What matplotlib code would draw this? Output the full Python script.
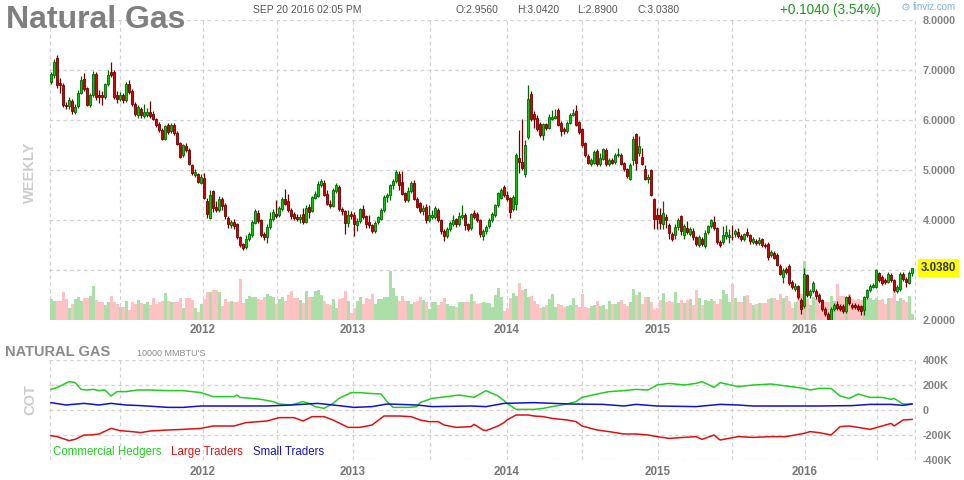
import matplotlib
matplotlib.use("Agg")
import matplotlib.pyplot as plt
from matplotlib.transforms import blended_transform_factory

plt.rcParams["font.family"] = ["Liberation Sans", "DejaVu Sans"]

W, H = 964, 480

# weekly candles, oldest first
opens = [
    6.77, 6.90, 7.23, 6.73, 6.69, 6.31, 6.28, 6.38, 6.16, 6.29,
    6.55, 6.82, 6.63, 6.30, 6.50, 6.93, 6.51, 6.50, 6.47, 6.73,
    6.97, 6.97, 6.50, 6.42, 6.50, 6.40, 6.72, 6.58, 6.33, 6.10,
    6.21, 6.08, 6.10, 6.15, 6.13, 6.02, 5.93, 5.81, 5.63, 5.90,
    5.78, 5.91, 5.75, 5.53, 5.30, 5.49, 5.41, 5.10, 4.90, 4.91,
    4.75, 4.85, 4.38, 4.05, 4.57, 4.27, 4.20, 4.42, 4.30, 4.05,
    3.89, 3.95, 3.91, 3.65, 3.51, 3.45, 3.62, 3.70, 3.95, 4.15,
    3.99, 3.71, 3.65, 3.85, 4.02, 4.13, 4.10, 4.22, 4.42, 4.38,
    4.20, 4.12, 4.07, 4.03, 4.11, 3.97, 4.27, 4.18, 4.45, 4.49,
    4.69, 4.75, 4.53, 4.33, 4.29, 4.58, 4.67, 4.22, 4.18, 3.95,
    4.13, 4.10, 3.89, 3.98, 4.22, 4.07, 3.95, 3.90, 3.77, 3.97,
    4.03, 4.20, 4.47, 4.50, 4.69, 4.78, 4.93, 4.77, 4.53, 4.40,
    4.58, 4.73, 4.43, 4.33, 4.18, 4.27, 4.00, 4.07, 4.07, 4.20,
    4.00, 3.78, 3.67, 3.82, 3.91, 4.02, 3.91, 4.07, 4.10, 3.91,
    3.83, 4.15, 4.13, 4.00, 3.67, 3.77, 3.87, 4.00, 4.10, 4.30,
    4.45, 4.67, 4.50, 4.43, 4.22, 4.33, 5.25, 5.17, 4.93, 5.67,
    6.51, 6.11, 6.05, 5.93, 5.71, 5.91, 5.85, 6.03, 6.05, 6.20,
    5.95, 5.83, 5.78, 5.95, 6.11, 6.18, 5.95, 5.82, 5.53, 5.29,
    5.11, 5.15, 5.38, 5.11, 5.23, 5.40, 5.11, 5.20, 5.17, 5.30,
    5.30, 5.13, 5.02, 4.83, 5.20, 5.73, 5.35, 5.27, 5.03, 4.82,
    5.00, 4.42, 4.11, 4.11, 3.93, 4.07, 3.91, 3.73, 3.69, 3.85,
    4.07, 3.70, 3.83, 3.71, 3.78, 3.65, 3.49, 3.62, 3.47, 3.75,
    3.87, 3.95, 3.83, 3.55, 3.55, 3.67, 3.65, 3.67, 3.71, 3.75,
    3.67, 3.62, 3.75, 3.70, 3.55, 3.58, 3.53, 3.62, 3.51, 3.53,
    3.29, 3.35, 3.31, 3.09, 2.87, 3.02, 3.09, 2.77, 2.62, 2.67,
    2.40, 2.29, 2.89, 2.49, 2.58, 2.58, 2.51, 2.40, 2.23, 2.13,
    2.00, 2.22, 2.33, 2.29, 2.29, 2.18, 2.47, 2.31, 2.30, 2.29,
    2.27, 2.20, 2.45, 2.60, 2.67, 2.67, 2.93, 2.87, 2.80, 2.77,
    2.90, 2.80, 2.58, 2.62, 2.93, 2.83, 2.75, 2.95,
]
closes = [
    6.91, 7.17, 6.71, 6.70, 6.30, 6.28, 6.40, 6.18, 6.27, 6.55,
    6.80, 6.63, 6.31, 6.50, 6.93, 6.47, 6.47, 6.47, 6.71, 6.90,
    6.91, 6.47, 6.42, 6.50, 6.40, 6.72, 6.57, 6.33, 6.12, 6.25,
    6.10, 6.17, 6.15, 6.09, 6.03, 5.90, 5.81, 5.63, 5.87, 5.77,
    5.91, 5.75, 5.53, 5.27, 5.50, 5.40, 5.13, 4.95, 4.95, 4.77,
    4.87, 4.45, 4.11, 4.51, 4.23, 4.21, 4.43, 4.29, 4.08, 3.93,
    3.95, 3.87, 3.65, 3.50, 3.43, 3.63, 3.72, 3.97, 4.18, 3.99,
    3.70, 3.65, 3.86, 4.02, 4.15, 4.08, 4.23, 4.42, 4.33, 4.20,
    4.09, 4.05, 4.03, 4.07, 3.97, 4.25, 4.17, 4.45, 4.53, 4.73,
    4.77, 4.51, 4.33, 4.29, 4.60, 4.69, 4.22, 4.18, 3.95, 4.11,
    4.09, 3.91, 3.98, 4.22, 4.07, 3.91, 3.90, 3.77, 3.93, 4.05,
    4.21, 4.47, 4.51, 4.69, 4.78, 4.97, 4.71, 4.53, 4.40, 4.58,
    4.75, 4.43, 4.27, 4.18, 4.25, 4.00, 4.10, 4.11, 4.25, 4.00,
    3.77, 3.67, 3.82, 3.93, 4.00, 3.91, 4.08, 4.10, 3.89, 3.82,
    4.11, 4.07, 4.01, 3.71, 3.78, 3.87, 4.00, 4.13, 4.30, 4.53,
    4.60, 4.50, 4.43, 4.15, 4.45, 5.30, 5.17, 5.05, 5.51, 6.43,
    6.02, 6.02, 5.83, 5.71, 5.91, 5.85, 6.05, 6.07, 6.09, 5.91,
    5.78, 5.78, 5.95, 6.11, 6.15, 5.91, 5.77, 5.51, 5.31, 5.15,
    5.20, 5.37, 5.11, 5.23, 5.42, 5.11, 5.20, 5.15, 5.31, 5.33,
    5.13, 5.02, 4.89, 5.10, 5.63, 5.15, 5.48, 5.13, 4.83, 4.87,
    4.51, 4.03, 4.03, 3.95, 4.15, 4.00, 3.73, 3.62, 3.85, 4.00,
    3.77, 3.87, 3.75, 3.82, 3.65, 3.51, 3.65, 3.51, 3.75, 3.87,
    4.00, 3.83, 3.55, 3.50, 3.69, 3.75, 3.69, 3.65, 3.78, 3.67,
    3.62, 3.71, 3.69, 3.57, 3.62, 3.53, 3.60, 3.50, 3.47, 3.27,
    3.35, 3.25, 3.11, 2.93, 3.00, 2.97, 2.75, 2.67, 2.69, 2.45,
    2.22, 2.93, 2.51, 2.58, 2.75, 2.47, 2.38, 2.22, 2.13, 2.02,
    2.22, 2.30, 2.25, 2.23, 2.18, 2.45, 2.35, 2.27, 2.27, 2.23,
    2.18, 2.45, 2.60, 2.69, 2.70, 3.00, 2.80, 2.75, 2.77, 2.93,
    2.80, 2.60, 2.67, 2.93, 2.83, 2.77, 2.95, 3.038,
]
highs = [
    6.97, 7.22, 7.31, 6.85, 6.75, 6.36, 6.46, 6.42, 6.33, 6.60,
    6.88, 6.95, 6.67, 6.55, 6.98, 6.96, 6.60, 6.58, 6.75, 7.00,
    7.17, 7.00, 6.58, 6.56, 6.55, 6.76, 6.80, 6.62, 6.36, 6.30,
    6.26, 6.33, 6.25, 6.38, 6.18, 6.05, 5.97, 5.85, 5.90, 5.95,
    5.95, 5.94, 5.78, 5.56, 5.53, 5.55, 5.44, 5.13, 5.03, 4.95,
    4.92, 4.95, 4.45, 4.60, 4.60, 4.38, 4.48, 4.47, 4.34, 4.08,
    4.01, 4.02, 3.94, 3.68, 3.55, 3.70, 3.77, 4.00, 4.22, 4.20,
    4.02, 3.76, 3.92, 4.15, 4.22, 4.40, 4.28, 4.46, 4.62, 4.52,
    4.25, 4.16, 4.12, 4.12, 4.25, 4.30, 4.32, 4.48, 4.58, 4.78,
    4.82, 4.80, 4.60, 4.40, 4.64, 4.74, 4.70, 4.27, 4.21, 4.20,
    4.18, 4.15, 4.05, 4.25, 4.30, 4.10, 4.10, 3.93, 3.98, 4.09,
    4.25, 4.50, 4.55, 4.72, 4.82, 5.00, 4.98, 4.98, 4.57, 4.65,
    4.78, 4.80, 4.46, 4.37, 4.30, 4.32, 4.30, 4.20, 4.28, 4.25,
    4.03, 3.82, 3.86, 3.98, 4.10, 4.05, 4.15, 4.30, 4.14, 3.95,
    4.14, 4.20, 4.17, 4.03, 3.82, 3.91, 4.04, 4.17, 4.33, 4.56,
    4.64, 4.70, 4.58, 4.47, 4.50, 5.35, 5.80, 6.03, 5.60, 6.70,
    6.58, 6.18, 6.10, 5.96, 5.95, 5.95, 6.12, 6.20, 6.22, 6.24,
    5.99, 5.87, 5.98, 6.15, 6.22, 6.30, 5.99, 5.85, 5.56, 5.32,
    5.24, 5.40, 5.42, 5.35, 5.45, 5.44, 5.24, 5.24, 5.35, 5.45,
    5.35, 5.16, 5.05, 5.15, 5.68, 5.75, 5.68, 5.45, 5.10, 4.92,
    5.03, 4.45, 4.25, 4.25, 4.38, 4.12, 3.95, 3.77, 3.92, 4.05,
    4.10, 3.92, 3.98, 3.87, 3.85, 3.68, 3.70, 3.66, 3.80, 3.90,
    4.03, 4.08, 3.87, 3.60, 3.88, 3.90, 3.82, 3.90, 3.82, 3.85,
    3.72, 3.75, 3.85, 3.73, 3.67, 3.62, 3.66, 3.65, 3.55, 3.56,
    3.40, 3.38, 3.34, 3.12, 3.05, 3.06, 3.12, 2.80, 2.75, 2.70,
    2.45, 3.05, 2.92, 2.63, 2.78, 2.62, 2.54, 2.43, 2.26, 2.16,
    2.26, 2.35, 2.38, 2.33, 2.32, 2.48, 2.50, 2.35, 2.34, 2.33,
    2.30, 2.48, 2.63, 2.72, 2.74, 3.03, 2.96, 2.90, 2.84, 2.97,
    2.94, 2.83, 2.71, 2.97, 2.96, 2.87, 2.98, 3.042,
]
lows = [
    6.72, 6.85, 6.65, 6.55, 6.26, 6.22, 6.22, 6.12, 6.12, 6.25,
    6.52, 6.58, 6.28, 6.26, 6.46, 6.40, 6.35, 6.30, 6.43, 6.68,
    6.86, 6.43, 6.35, 6.38, 6.35, 6.36, 6.53, 6.28, 6.08, 6.05,
    6.04, 6.04, 6.06, 6.05, 6.00, 5.86, 5.77, 5.60, 5.60, 5.73,
    5.74, 5.70, 5.50, 5.25, 5.26, 5.36, 5.10, 4.90, 4.87, 4.74,
    4.72, 4.42, 4.05, 4.02, 4.17, 4.15, 4.16, 4.20, 4.03, 3.85,
    3.85, 3.82, 3.62, 3.47, 3.40, 3.42, 3.58, 3.67, 3.92, 3.95,
    3.66, 3.61, 3.55, 3.82, 3.98, 4.04, 4.06, 4.18, 4.30, 4.16,
    4.03, 4.00, 3.99, 3.95, 3.93, 3.94, 4.05, 4.15, 4.42, 4.46,
    4.66, 4.48, 4.30, 4.25, 4.26, 4.55, 4.18, 4.10, 3.72, 3.86,
    4.03, 3.69, 3.78, 3.95, 4.03, 3.85, 3.85, 3.74, 3.74, 3.93,
    4.00, 4.16, 4.37, 4.40, 4.62, 4.75, 4.60, 4.50, 4.36, 4.37,
    4.55, 4.40, 4.23, 4.14, 4.10, 3.95, 3.97, 4.03, 4.03, 3.96,
    3.73, 3.58, 3.64, 3.79, 3.88, 3.87, 3.88, 4.03, 3.80, 3.78,
    3.80, 4.03, 3.97, 3.67, 3.60, 3.73, 3.84, 3.96, 4.07, 4.27,
    4.42, 4.46, 4.38, 4.05, 4.18, 4.20, 4.95, 5.00, 4.87, 5.63,
    5.98, 5.85, 5.78, 5.67, 5.60, 5.80, 5.82, 6.00, 6.02, 5.88,
    5.68, 5.73, 5.74, 5.92, 6.08, 5.88, 5.73, 5.47, 5.27, 5.11,
    5.08, 5.12, 5.08, 5.08, 5.20, 5.08, 5.08, 5.12, 5.13, 5.27,
    5.10, 4.98, 4.85, 4.80, 5.10, 5.00, 5.28, 5.10, 4.80, 4.75,
    4.48, 3.83, 3.83, 3.83, 3.82, 3.85, 3.62, 3.58, 3.62, 3.81,
    3.70, 3.62, 3.72, 3.68, 3.61, 3.48, 3.46, 3.48, 3.44, 3.72,
    3.84, 3.80, 3.52, 3.46, 3.52, 3.63, 3.55, 3.60, 3.66, 3.64,
    3.58, 3.59, 3.66, 3.53, 3.52, 3.50, 3.50, 3.47, 3.44, 3.20,
    3.26, 3.22, 3.08, 2.90, 2.75, 2.93, 2.70, 2.63, 2.58, 2.42,
    2.12, 2.25, 2.46, 2.45, 2.54, 2.43, 2.34, 2.18, 2.08, 1.98,
    1.98, 2.18, 2.20, 2.19, 2.14, 2.15, 2.31, 2.23, 2.23, 2.19,
    2.10, 2.10, 2.42, 2.57, 2.64, 2.64, 2.76, 2.70, 2.73, 2.74,
    2.76, 2.56, 2.55, 2.59, 2.79, 2.66, 2.72, 2.89,
]
# weekly volume (thousand contracts)
volume = [
    21, 19, 19, 19, 28, 21, 12, 16, 21, 23, 19, 22, 22, 24, 34, 20, 18, 18, 15, 18,
    24, 18, 16, 13, 13, 19, 10, 18, 16, 20, 17, 16, 18, 15, 22, 16, 18, 19, 27, 19,
    18, 18, 18, 22, 12, 22, 22, 20, 12, 8, 16, 21,
    28, 28, 30, 30, 28, 14, 21, 18, 19, 18, 18, 41, 17, 21, 24, 23, 23, 21, 20, 23,
    26, 24, 23, 16, 21, 23, 19, 25, 29, 22, 22, 20, 17, 29, 23, 23, 29, 30, 25, 19,
    16, 15, 21, 12, 21, 22, 29, 19,
    7, 12, 19, 23, 16, 22, 21, 26, 16, 21, 21, 23, 23, 49, 32, 24, 19, 24, 19, 19,
    16, 18, 19, 23, 20, 18, 11, 18, 18, 15, 18, 22, 16, 14, 14, 13, 18, 18, 18, 18,
    26, 19, 16, 17, 18, 17, 17, 13, 25, 32, 23, 9, 12, 22, 27,
    24, 37, 30, 31, 23, 24, 19, 16, 12, 13, 15, 21, 26, 13, 16, 15, 13, 14, 15, 22,
    15, 13, 26, 13, 12, 14, 15, 19, 14, 15, 11, 19, 16, 16, 18, 20, 16, 14, 18, 31,
    25, 28, 16, 23, 23, 18, 11, 12, 20, 27,
    18, 19, 18, 28, 17, 20, 17, 20, 21, 15, 30, 22, 15, 20, 19, 21, 19, 16, 21, 30,
    26, 18, 36, 22, 18, 18, 24, 25, 17, 15, 16, 17, 17, 17, 21, 22, 22, 20, 26, 22,
    24, 19, 12, 18, 22, 26, 59, 21, 15, 23,
    21, 15, 20, 18, 18, 24, 19, 36, 24, 24, 22, 26, 21, 20, 21, 20, 22, 21, 22, 20,
    22, 20, 21, 16, 22, 22, 30, 19, 22, 20, 18, 24, 6,
]

# grid positions, in weeks from the first candle
year_pos = [50.67, 100.67, 152.0, 202.33, 251.33]
year_labels = ["2012", "2013", "2014", "2015", "2016"]
half_pos = [-0.33, 23.0, 75.33, 126.33, 177.0, 227.0, 275.33, 288.0]
price_ticks = [2, 3, 4, 5, 6, 7, 8]
cot_ticks = [-400, -200, 0, 200, 400]
cot_labels = ["-400K", "-200K", "0", "200K", "400K"]

# COT net positions (thousand contracts) at week index
comm_wk = [0, 2, 6, 8, 10, 12, 14, 16, 18, 20, 22, 25, 29, 33, 39, 44, 50, 54, 61, 62,
           63, 70, 74, 76, 80, 84, 86, 88, 91, 94, 96, 100, 103, 106, 110, 112, 114, 119, 122, 123,
           127, 132, 136, 141, 145, 149, 151, 152, 155, 157, 161, 164, 167, 172, 175, 177, 182, 186, 191, 195,
           199, 202, 206, 211, 215, 217, 221, 223, 229, 234, 240, 245, 251, 253, 256, 260, 263, 266, 269, 273,
           277, 280, 281, 284, 287]
comm = [165, 179, 227, 220, 165, 160, 165, 155, 160, 112, 147, 147, 160, 160, 155, 155, 139, 107, 107, 120,
        101, 85, 67, 48, 40, 67, 53, 27, 13, 53, 93, 139, 139, 133, 128, 67, 21, 21, 27, 59,
        93, 107, 120, 101, 155, 112, 75, 53, 5, 5, 5, 13, 27, 48, 67, 101, 128, 147, 155, 165,
        160, 200, 213, 200, 213, 227, 181, 219, 187, 200, 208, 192, 173, 160, 173, 173, 112, 93, 128, 101,
        101, 85, 93, 48, 48]
large_wk = [0, 2, 6, 8, 11, 13, 16, 20, 23, 27, 30, 33, 39, 44, 50, 54, 61, 65, 72, 76,
            81, 84, 87, 91, 94, 99, 103, 107, 111, 116, 120, 123, 126, 129, 131, 135, 140, 141, 144, 145,
            149, 151, 152, 155, 159, 161, 164, 167, 172, 175, 177, 182, 186, 191, 195, 199, 202, 206, 211, 215,
            217, 221, 223, 229, 234, 240, 245, 251, 253, 256, 260, 263, 266, 269, 273, 277, 280, 281, 284, 287]
large = [-205, -213, -245, -235, -200, -200, -192, -147, -165, -173, -181, -168, -160, -155, -147, -128, -128, -101, -88, -61,
         -61, -88, -53, -53, -80, -139, -139, -120, -48, -48, -53, -80, -93, -93, -120, -139, -133, -115, -160, -165,
         -128, -101, -80, -40, -40, -48, -53, -67, -80, -93, -128, -160, -173, -192, -192, -200, -213, -227, -219, -213,
         -235, -200, -240, -213, -219, -213, -213, -187, -173, -181, -200, -133, -128, -139, -155, -128, -107, -128, -80, -75]
small_wk = [0, 5, 11, 16, 20, 25, 30, 39, 44, 50, 61, 72, 80, 89, 94, 101, 107, 112, 116, 122,
            127, 140, 145, 151, 161, 173, 184, 191, 195, 202, 215, 223, 229, 234, 245, 256, 267, 273, 280, 284, 287]
small = [59, 40, 53, 40, 53, 40, 35, 21, 21, 32, 32, 32, 40, 53, 40, 21, 27, 48, 45, 40,
         27, 32, 27, 53, 59, 48, 45, 32, 45, 32, 27, 45, 40, 32, 32, 32, 35, 45, 45, 37, 48]


def rect(left, top, right, bottom):
    return [left / W, 1 - bottom / H, (right - left) / W, (bottom - top) / H]


def fpos(x, y):
    return x / W, 1 - y / H


GRID = dict(color="#d2d2d2", linestyle=(0, (3, 2.5)), linewidth=0.9)
XLIM = (-0.67, 288.3)

fig = plt.figure(figsize=(W / 100, H / 100), dpi=100)
x = list(range(len(closes)))
up = [c >= o for o, c in zip(opens, closes)]

# volume layer (below candles)
axv = fig.add_axes(rect(49, 20, 916, 320))
axv.bar(x, volume, width=1.0, linewidth=0,
        color=["#acdfa8" if u else "#ffc2c2" for u in up])
axv.set_xlim(*XLIM)
axv.set_ylim(0, 300)
axv.set_xticks(year_pos)
axv.set_xticks(half_pos, minor=True)
axv.set_axisbelow(True)
axv.grid(True, axis="x", which="both", **GRID)
axv.set_yticks([])
axv.tick_params(axis="x", which="both", length=0, labelbottom=False)
for s in axv.spines.values():
    s.set_visible(False)

# candles
ax = fig.add_axes(rect(49, 20, 916, 320))
ax.patch.set_visible(False)
edge = ["#006400" if u else "#6e0000" for u in up]
fill = ["#00d000" if u else "#dd0000" for u in up]
ax.vlines(x, lows, highs, colors=edge, linewidth=0.9, zorder=2)
ax.bar(x, [max(abs(c - o), 0.015) for o, c in zip(opens, closes)],
       bottom=[min(o, c) for o, c in zip(opens, closes)],
       width=0.72, color=fill, edgecolor=edge, linewidth=0.6, zorder=3)
ax.set_xlim(*XLIM)
ax.set_ylim(2, 8)
ax.set_yticks(price_ticks, ["" if v == 3 else f"{v:.4f}" for v in price_ticks])
ax.yaxis.tick_right()
ax.set_axisbelow(True)
ax.grid(True, axis="y", **GRID)
ax.yaxis.get_gridlines()[0].set_visible(False)
ax.set_xticks(year_pos, year_labels)
ax.tick_params(axis="y", length=0, pad=5, labelsize=7.8, labelcolor="#828282")
ax.tick_params(axis="x", length=0, pad=3, labelsize=8.4, labelcolor="#777777")
for lbl in ax.get_yticklabels() + ax.get_xticklabels():
    lbl.set_fontweight("bold")
for s in ax.spines.values():
    s.set_visible(False)

# last price tag
tr = blended_transform_factory(ax.transAxes, ax.transData)
ax.text(1.0 + 5 / 867, closes[-1], f"{closes[-1]:.4f}", transform=tr,
        ha="left", va="center", fontsize=8.3, fontweight="bold", color="#333333",
        bbox=dict(boxstyle="square,pad=0.25", fc="#ffff00", ec="none"), zorder=5)

# COT panel
axc = fig.add_axes(rect(49, 360, 916, 460))
axc.plot(comm_wk, comm, color="#22cc22", linewidth=1.1)
axc.plot(large_wk, large, color="#dd1111", linewidth=1.1)
axc.plot(small_wk, small, color="#1111cc", linewidth=1.1)
axc.set_xlim(*XLIM)
axc.set_ylim(-400, 400)
axc.set_yticks(cot_ticks, cot_labels)
axc.yaxis.tick_right()
axc.set_xticks(year_pos, year_labels)
axc.set_xticks(half_pos, minor=True)
axc.set_axisbelow(True)
axc.grid(True, axis="x", which="both", **GRID)
axc.grid(True, axis="y", **GRID)
axc.tick_params(axis="both", which="both", length=0)
axc.tick_params(axis="y", pad=5, labelsize=7.8, labelcolor="#828282")
axc.tick_params(axis="x", pad=4, labelsize=8.4, labelcolor="#777777")
for lbl in axc.get_yticklabels() + axc.get_xticklabels():
    lbl.set_fontweight("bold")
for s in axc.spines.values():
    s.set_visible(False)

# header and labels
fig.text(*fpos(6, 28), "Natural Gas", fontsize=23, fontweight="bold",
         color="#7f7f7f", va="baseline")
hdr = dict(fontsize=7.5, color="#555555", va="center")
fig.text(*fpos(253, 10), "SEP 20 2016 02:05 PM", **hdr)
fig.text(*fpos(455, 10), "O:2.9560", **hdr)
fig.text(*fpos(517, 10), "H:3.0420", **hdr)
fig.text(*fpos(577, 10), "L:2.8900", **hdr)
fig.text(*fpos(637, 10), "C:3.0380", **hdr)
fig.text(*fpos(780, 10), "+0.1040 (3.54%)", fontsize=9.8, color="#1d9a1d", va="center")
fig.text(*fpos(906, 7), "S", fontsize=3.5, color="#7fb2e0", ha="center", va="center",
         bbox=dict(boxstyle="circle,pad=0.12", fc="none", ec="#7fb2e0", lw=0.6))
fig.text(*fpos(913, 7), "finviz.com", fontsize=7, color="#7fb2e0", va="center")

fig.text(*fpos(30, 172), "WEEKLY", rotation=90, fontsize=10.5, fontweight="bold",
         color="#cccccc", ha="center", va="center")
fig.text(*fpos(30, 400), "COT", rotation=90, fontsize=10.5, fontweight="bold",
         color="#cccccc", ha="center", va="center")
fig.text(*fpos(5, 352), "NATURAL GAS", fontsize=10.5, fontweight="bold",
         color="#8a8a8a", va="center")
fig.text(*fpos(137, 353), "10000 MMBTU'S", fontsize=6.5, color="#8a8a8a", va="center")
fig.text(*fpos(53, 452), "Commercial Hedgers", fontsize=8.3, color="#22cc22", va="center")
fig.text(*fpos(171, 452), "Large Traders", fontsize=8.3, color="#dd1111", va="center")
fig.text(*fpos(253, 452), "Small Traders", fontsize=8.3, color="#1111cc", va="center")

fig.savefig("out.png", dpi=100)
